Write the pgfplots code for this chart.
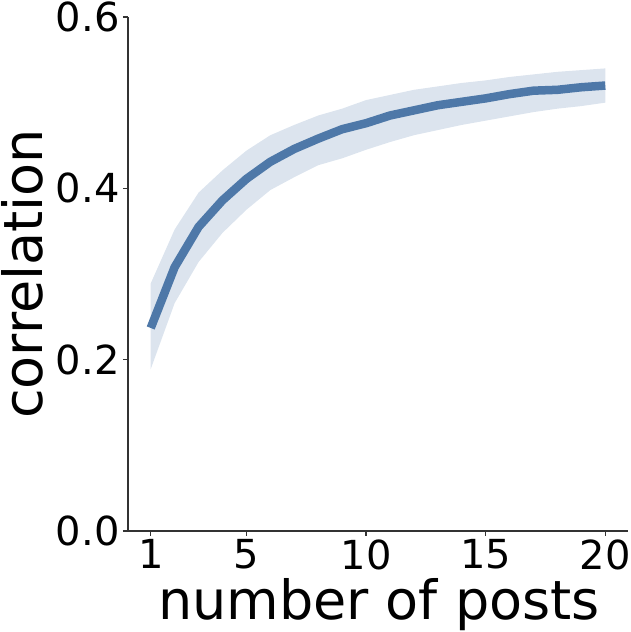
\documentclass[border=0pt]{standalone}
\usepackage{pgfplots}
\pgfplotsset{compat=1.18}
\usepackage{fontspec}
\setmainfont{DejaVu Sans}
\usepgfplotslibrary{fillbetween}

\definecolor{linecol}{HTML}{4E78A8}
\definecolor{bandcol}{HTML}{DCE4EE}
\definecolor{spinecol}{HTML}{333333}

% mean correlation and band (lower/upper) per number of posts
\pgfplotstableread{
n   mean   lo     hi
1   0.237  0.189  0.289
2   0.308  0.266  0.352
3   0.355  0.314  0.395
4   0.386  0.348  0.421
5   0.411  0.375  0.444
6   0.431  0.398  0.462
7   0.446  0.413  0.474
8   0.458  0.427  0.485
9   0.469  0.435  0.493
10  0.476  0.445  0.503
11  0.485  0.454  0.509
12  0.491  0.462  0.515
13  0.497  0.468  0.519
14  0.501  0.474  0.523
15  0.505  0.479  0.526
16  0.510  0.484  0.530
17  0.514  0.489  0.533
18  0.515  0.493  0.536
19  0.518  0.496  0.538
20  0.520  0.500  0.540
}\corrdata

\begin{document}
\begin{tikzpicture}
\begin{axis}[
    at={(0,0)}, anchor=south west,
    scale only axis,
    width=500pt, height=514pt,
    xmin=0.05, xmax=20.95,
    ymin=0, ymax=0.6,
    axis x line*=bottom,
    axis y line*=left,
    axis line style={spinecol, line width=1.1pt},
    xtick={1,5,10,15,20},
    ytick={0,0.2,0.4,0.6},
    yticklabel style={/pgf/number format/.cd, fixed, fixed zerofill, precision=1},
    /pgf/number format/assume math mode=true,
    tick align=outside,
    major tick length=5pt,
    tick style={spinecol, line width=1.1pt},
    tick label style={font=\fontsize{40}{48}\selectfont, black},
    xlabel={number of posts},
    ylabel={correlation},
    every axis x label/.style={at={(axis description cs:0.502,0)}, yshift=-88pt, anchor=base,
        font=\fontsize{54}{64}\selectfont},
    every axis y label/.style={at={(axis description cs:0,0.5)}, xshift=-85pt, anchor=base, rotate=90,
        font=\fontsize{54}{64}\selectfont},
    clip=false,
]
\addplot[name path=upper, draw=none, forget plot] table[x=n, y=hi] {\corrdata};
\addplot[name path=lower, draw=none, forget plot] table[x=n, y=lo] {\corrdata};
\addplot[bandcol, forget plot] fill between[of=upper and lower];
\addplot[linecol, line width=8.5pt, line join=round] table[x=n, y=mean] {\corrdata};
\end{axis}
\pgfresetboundingbox
\path (-128pt,-101pt) rectangle (502pt,531pt);
\end{tikzpicture}
\end{document}
